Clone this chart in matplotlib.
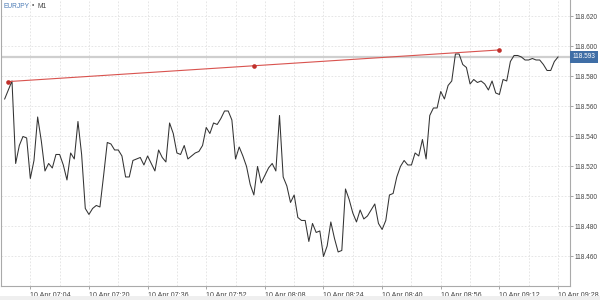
import pandas as pd
import matplotlib
matplotlib.use("Agg")
import matplotlib.pyplot as plt
import matplotlib.dates as mdates
from matplotlib.patches import Rectangle
from matplotlib.transforms import blended_transform_factory

# EURJPY M1 closes, one per minute from 06:57
start = "2024-04-10 06:57"
close = [
    118.565, 118.571, 118.577, 118.522, 118.534, 118.540, 118.539, 118.512,
    118.524, 118.553, 118.537, 118.517, 118.522, 118.519, 118.528, 118.528,
    118.521, 118.511, 118.529, 118.525, 118.550, 118.528, 118.492, 118.488,
    118.492, 118.494, 118.493, 118.514, 118.536, 118.535, 118.531, 118.531,
    118.527, 118.513, 118.513, 118.524, 118.525, 118.526, 118.521, 118.527,
    118.522, 118.517, 118.531, 118.526, 118.523, 118.549, 118.542, 118.529,
    118.528, 118.534, 118.525, 118.527, 118.529, 118.530, 118.534, 118.546,
    118.542, 118.549, 118.548, 118.552, 118.557, 118.557, 118.551, 118.525,
    118.533, 118.527, 118.520, 118.508, 118.501, 118.520, 118.509, 118.514,
    118.519, 118.522, 118.517, 118.554, 118.513, 118.507, 118.496, 118.501,
    118.486, 118.484, 118.484, 118.470, 118.482, 118.476, 118.477, 118.460,
    118.467, 118.483, 118.472, 118.463, 118.464, 118.505, 118.498, 118.489,
    118.483, 118.491, 118.485, 118.487, 118.491, 118.495, 118.482, 118.478,
    118.484, 118.501, 118.502, 118.513, 118.520, 118.524, 118.521, 118.521,
    118.529, 118.527, 118.538, 118.525, 118.554, 118.559, 118.559, 118.570,
    118.565, 118.574, 118.577, 118.595, 118.595, 118.588, 118.586, 118.575,
    118.578, 118.576, 118.577, 118.575, 118.571, 118.577, 118.569, 118.568,
    118.578, 118.577, 118.590, 118.594, 118.594, 118.593, 118.591, 118.591,
    118.592, 118.591, 118.591, 118.588, 118.584, 118.584, 118.590, 118.593,
]
times = pd.date_range(start, periods=len(close), freq="1min")

# trend line drawn on the chart
trend_times = pd.to_datetime(["2024-04-10 06:58", "2024-04-10 08:05", "2024-04-10 09:12"])
trend_vals = [118.5766, 118.5872, 118.5977]

last_price = 118.593
symbol = "EURJPY"
timeframe = "M1"
y_ticks = [118.460, 118.480, 118.500, 118.520, 118.540, 118.560, 118.580, 118.600, 118.620]
x_ticks = pd.date_range("2024-04-10 07:04", periods=10, freq="16min")
x_minor = pd.date_range("2024-04-10 06:56", periods=10, freq="16min")

plt.rcParams['font.family'] = ['Liberation Sans', 'DejaVu Sans']

fig = plt.figure(figsize=(6, 3), dpi=100)
fig.patches.append(Rectangle((0, 0), 1, 4 / 300, transform=fig.transFigure,
                             facecolor='#efefef', edgecolor='none', zorder=0))
ax = fig.add_axes([1 / 600, 14 / 300, 569 / 600, 286 / 300])

ax.axhline(last_price, color='#cfcfcf', lw=1.6, zorder=1)
ax.plot(times, close, color='#333333', lw=0.75, zorder=3)
ax.plot(trend_times[[0, -1]], [trend_vals[0], trend_vals[-1]], color='#d9534f', lw=0.8, zorder=4)
ax.scatter(trend_times, trend_vals, s=11, color='#c0302b', zorder=5, linewidths=0)

ax.set_xlim(pd.Timestamp("2024-04-10 06:56:57"), pd.Timestamp("2024-04-10 09:31:16"))
ax.set_ylim(118.4403, 118.631)

ax.set_xticks(x_ticks)
ax.set_xticks(x_minor, minor=True)
ax.xaxis.set_major_formatter(mdates.DateFormatter('%d %b %H:%M'))
for lbl in ax.get_xticklabels():
    lbl.set_horizontalalignment('left')
ax.set_yticks(y_ticks)
ax.set_yticklabels([f"{v:.3f}" for v in y_ticks])
ax.yaxis.tick_right()

ax.grid(True, which='both', axis='x', color='#e2e2e2', lw=0.6, linestyle=(0, (2, 2)))
ax.grid(True, which='major', axis='y', color='#e2e2e2', lw=0.6, linestyle=(0, (2, 2)))
ax.set_axisbelow(True)

ax.tick_params(axis='x', which='major', length=2.5, width=0.6, color='#999999',
               labelsize=5.1, labelcolor='#444444', pad=1.5)
ax.tick_params(axis='x', which='minor', length=0)
ax.tick_params(axis='y', length=2.5, width=0.6, color='#999999',
               labelsize=4.7, labelcolor='#444444', pad=1)
for side in ['left', 'right', 'bottom']:
    ax.spines[side].set_color('#aaaaaa')
    ax.spines[side].set_linewidth(0.8)
ax.spines['top'].set_visible(False)

tr = blended_transform_factory(ax.transAxes, ax.transData)
ax.text(1.0 + 2.5 / 569, last_price, f"{last_price:.3f}", transform=tr, ha='left', va='center',
        color='white', fontsize=4.7, clip_on=False, zorder=6,
        bbox=dict(boxstyle='square,pad=0.4', facecolor='#3f6ea6', edgecolor='none'))

fig.text(3 / 600, 1 - 6 / 300, symbol, color='#4a7ab5', fontsize=4.8, va='center', ha='left')
fig.text(32 / 600, 1 - 6 / 300, "\u2022", color='#555555', fontsize=4.8, va='center', ha='left')
fig.text(37 / 600, 1 - 6 / 300, timeframe, color='#444444', fontsize=4.8, va='center', ha='left')

fig.savefig('out.png', dpi=100)
